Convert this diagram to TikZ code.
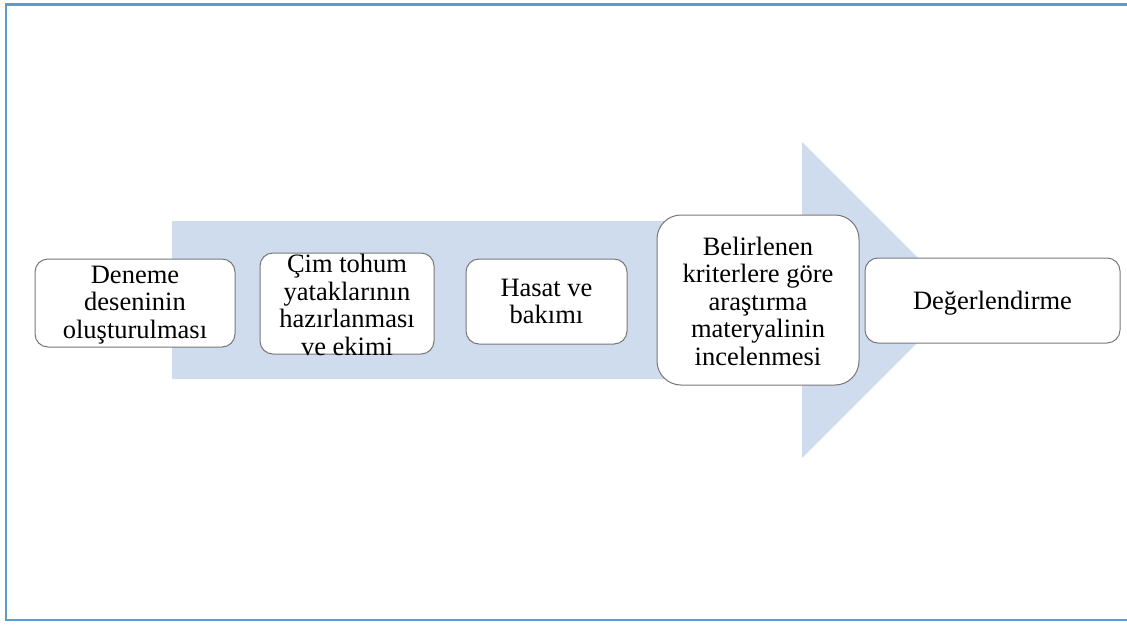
\documentclass[tikz,border=0pt]{standalone}
\usepackage{fontspec}
\setmainfont{Liberation Serif}
\definecolor{frameblue}{RGB}{91,155,213}
\definecolor{arrowfill}{RGB}{207,220,238}
\definecolor{boxline}{RGB}{120,120,120}
\begin{document}
\begin{tikzpicture}[x=1pt,y=-1pt,
  stepbox/.style={draw=boxline, line width=1pt, fill=white, rounded corners=13pt, inner sep=0pt},
  steptext/.style={align=center, inner sep=0pt, font=\fontsize{26.5}{27.5}\selectfont}]
\useasboundingbox (0,0) rectangle (1127,624);
% frame
\draw[frameblue, line width=2.5pt] (1130,4.5) -- (6,4.5) -- (6,620) -- (1130,620);
% big arrow
\fill[arrowfill] (172,221) -- (802,221) -- (802,142) -- (960,300) -- (802,458) -- (802,379) -- (172,379) -- cycle;
% boxes
\node[stepbox, minimum width=200pt, minimum height=88pt] (b1) at (135,303) {};
\node[stepbox, minimum width=174pt, minimum height=101pt] (b2) at (347,303.5) {};
\node[stepbox, minimum width=161pt, minimum height=85pt] (b3) at (546.5,301.5) {};
\node[stepbox, rounded corners=24pt, minimum width=202pt, minimum height=170pt] (b4) at (758,300) {};
\node[stepbox, minimum width=255pt, minimum height=85pt] (b5) at (992.5,300.5) {};
% texts
\node[steptext] (t1) at (135,305) {Deneme\\deseninin\\oluşturulması};
\node[steptext] (t2) at (347,305) {Çim tohum\\yataklarının\\hazırlanması\\ve ekimi};
\node[steptext] (t3) at (546.5,301.5) {Hasat ve\\bakımı};
\node[steptext] (t4) at (758,301) {Belirlenen\\kriterlere göre\\araştırma\\materyalinin\\incelenmesi};
\node[steptext] (t5) at (992.5,303) {Değerlendirme};
\end{tikzpicture}
\end{document}
